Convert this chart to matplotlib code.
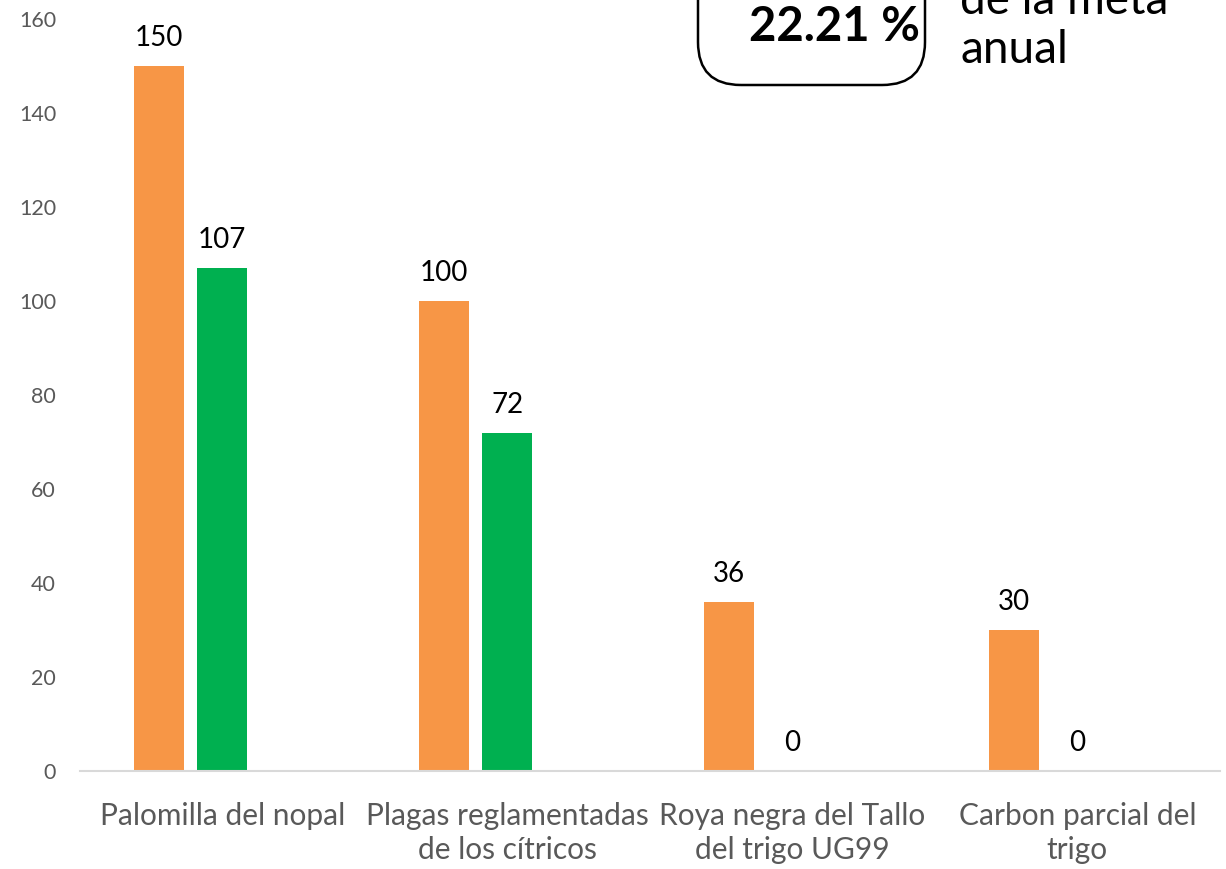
import numpy as np
import matplotlib.pyplot as plt
from matplotlib.patches import FancyBboxPatch

plt.rcParams['font.family'] = ['Lato', 'DejaVu Sans']

categories = ["Palomilla del nopal", "Plagas reglamentadas\nde los cítricos",
              "Roya negra del Tallo\ndel trigo UG99", "Carbon parcial del\ntrigo"]
meta = [150, 100, 36, 30]
avance = [107, 72, 0, 0]
yticks = [0, 20, 40, 60, 80, 100, 120, 140, 160]

fig = plt.figure(figsize=(12.26, 8.69), dpi=100)
ax = fig.add_axes([0.065, 0.1128, 0.93, 0.8653])

x = np.arange(len(categories))
w = 0.175
off = 0.222
ax.bar(x - off, meta, width=w, color="#F79646")
ax.bar(x, avance, width=w, color="#00B050")

for xi, v in zip(x - off, meta):
    ax.text(xi, v + 3.2, str(v), ha="center", va="bottom", fontsize=20, color="black")
for xi, v in zip(x, avance):
    ax.text(xi, v + 3.2, str(v), ha="center", va="bottom", fontsize=20, color="black")

ax.set_xlim(-0.5, 3.5)
ax.set_ylim(0, 160)
ax.set_yticks(yticks)
ax.set_xticks(x)
ax.set_xticklabels(categories, fontsize=21.5, color="#595959", linespacing=1.3)
ax.tick_params(axis="y", length=0, labelsize=15.5, labelcolor="#595959", pad=17)
ax.tick_params(axis="x", length=0, pad=22)
for s in ["top", "right", "left"]:
    ax.spines[s].set_visible(False)
ax.spines["bottom"].set_color("#D9D9D9")
ax.spines["bottom"].set_linewidth(1.5)

# rounded box in upper right, cut off at the top
box = FancyBboxPatch((698 / 1226, 1 - 85 / 869), 227 / 1226, 0.3,
                     boxstyle="round,pad=0,rounding_size=0.035",
                     transform=fig.transFigure, fill=False, edgecolor="black",
                     linewidth=1.8, mutation_aspect=1226 / 869)
fig.patches.append(box)
fig.text(920 / 1226, 1 - 41 / 869, "22.21 %", ha="right", va="baseline",
         fontsize=34, fontweight="bold")
fig.text(960 / 1226, 1 - 63 / 869, "anual", ha="left", va="baseline", fontsize=33)
fig.text(960 / 1226, 1 - 14 / 869, "de la meta", ha="left", va="baseline", fontsize=33)

plt.savefig("out.png", dpi=100)
